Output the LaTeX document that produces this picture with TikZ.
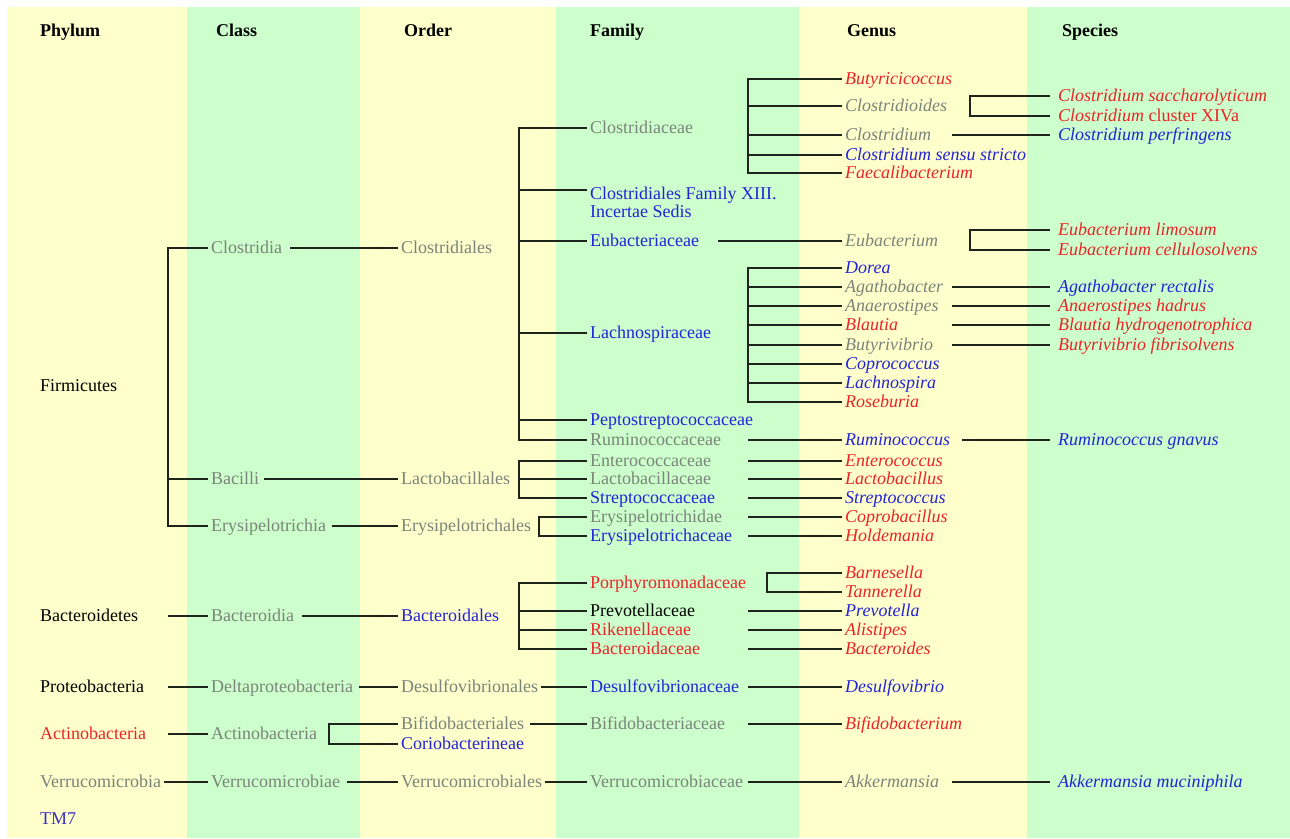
\documentclass[tikz,border=0pt]{standalone}
\usepackage{fontspec}
\setmainfont{Liberation Serif}
\usetikzlibrary{calc}
\definecolor{ybg}{RGB}{255,255,204}
\definecolor{gbg}{RGB}{204,255,204}
\definecolor{tgray}{RGB}{122,132,122}
\definecolor{tred}{RGB}{235,35,40}
\definecolor{tblue}{RGB}{35,35,215}
\definecolor{tmc}{RGB}{60,50,190}
\definecolor{lnc}{RGB}{30,36,28}
\begin{document}
\begin{tikzpicture}[x=1pt,y=-1pt,
  lbl/.style={anchor=west, inner xsep=3pt, inner ysep=1pt, font=\fontsize{18}{18}\selectfont, text height=11pt, text depth=1pt},
  hdr/.style={lbl, font=\fontsize{18}{18}\selectfont\bfseries},
  gr/.style={lbl, text=tgray},
  rd/.style={lbl, text=tred},
  bl/.style={lbl, text=tblue},
  bk/.style={lbl, text=black},
  itx/.style={font=\fontsize{18}{18}\selectfont\itshape},
  conn/.style={draw=lnc, line width=2.2pt}]
\useasboundingbox (0,0) rectangle (1290,838);
% background bands
\fill[white] (0,0) rectangle (1290,838);
\fill[ybg] (7,7) rectangle (187,838);
\fill[gbg] (187,7) rectangle (360,838);
\fill[ybg] (360,7) rectangle (556,838);
\fill[gbg] (556,7) rectangle (799,838);
\fill[ybg] (799,7) rectangle (1027,838);
\fill[gbg] (1027,7) rectangle (1290,838);
% column coordinates
\coordinate (cP) at (168,0);
\coordinate (cA) at (329,0);
\coordinate (cF) at (519,0);
\coordinate (cE) at (539,0);
\coordinate (cG) at (748,0);
\coordinate (cPo) at (767,0);
\coordinate (cS) at (952,0);
\coordinate (cB) at (970,0);
\coordinate (cSe) at (1050,0);
% headers
\node[hdr] (hP) at (37,31) {Phylum};
\node[hdr] (hC) at (213,31) {Class};
\node[hdr] (hO) at (401,31) {Order};
\node[hdr] (hF) at (587,31) {Family};
\node[hdr] (hG) at (844,31) {Genus};
\node[hdr] (hS) at (1059,31) {Species};
% phylum
\node[bk] (firmicutes) at (37,386) {Firmicutes};
\node[bk] (bacteroidetes) at (37,616) {Bacteroidetes};
\node[bk] (proteobacteria) at (37,687) {Proteobacteria};
\node[rd] (actinobacteriaP) at (37,734) {Actinobacteria};
\node[gr] (verrucomicrobia) at (37,782) {Verrucomicrobia};
\node[lbl, text=tmc] (tm7) at (37,819) {TM7};
% class
\node[gr] (clostridia) at (208,248) {Clostridia};
\node[gr] (bacilli) at (208,479) {Bacilli};
\node[gr] (erysipelotrichia) at (208,526) {Erysipelotrichia};
\node[gr] (bacteroidia) at (208,616) {Bacteroidia};
\node[gr] (deltaproteobacteria) at (208,687) {Deltaproteobacteria};
\node[gr] (actinobacteriaC) at (208,734) {Actinobacteria};
\node[gr] (verrucomicrobiae) at (208,782) {Verrucomicrobiae};
% order
\node[gr] (clostridiales) at (398,248) {Clostridiales};
\node[gr] (lactobacillales) at (398,479) {Lactobacillales};
\node[gr] (erysipelotrichales) at (398,526) {Erysipelotrichales};
\node[bl] (bacteroidales) at (398,616) {Bacteroidales};
\node[gr] (desulfovibrionales) at (398,687) {Desulfovibrionales};
\node[gr] (bifidobacteriales) at (398,724) {Bifidobacteriales};
\node[bl] (coriobacterineae) at (398,744) {Coriobacterineae};
\node[gr] (verrucomicrobiales) at (398,782) {Verrucomicrobiales};
% family
\node[gr] (clostridiaceae) at (587,128) {Clostridiaceae};
\node[anchor=north west, inner xsep=3pt, inner ysep=1pt, align=left, font=\fontsize{18}{18}\selectfont, text=tblue] (famXIII) at (587,186) {Clostridiales Family XIII.\\Incertae Sedis};
\node[bl] (eubacteriaceae) at (587,241) {Eubacteriaceae};
\node[bl] (lachnospiraceae) at (587,333) {Lachnospiraceae};
\node[bl] (peptostreptococcaceae) at (587,420) {Peptostreptococcaceae};
\node[gr] (ruminococcaceae) at (587,440) {Ruminococcaceae};
\node[gr] (enterococcaceae) at (587,461) {Enterococcaceae};
\node[gr] (lactobacillaceae) at (587,479) {Lactobacillaceae};
\node[bl] (streptococcaceae) at (587,498) {Streptococcaceae};
\node[gr] (erysipelotrichidae) at (587,517) {Erysipelotrichidae};
\node[bl] (erysipelotrichaceae) at (587,536) {Erysipelotrichaceae};
\node[rd] (porphyromonadaceae) at (587,583) {Porphyromonadaceae};
\node[bk] (prevotellaceae) at (587,611) {Prevotellaceae};
\node[rd] (rikenellaceae) at (587,630) {Rikenellaceae};
\node[rd] (bacteroidaceae) at (587,649) {Bacteroidaceae};
\node[bl] (desulfovibrionaceae) at (587,687) {Desulfovibrionaceae};
\node[gr] (bifidobacteriaceae) at (587,724) {Bifidobacteriaceae};
\node[gr] (verrucomicrobiaceae) at (587,782) {Verrucomicrobiaceae};
% genus
\node[rd,itx] (butyricicoccus) at (842,79) {Butyricicoccus};
\node[gr,itx] (clostridioides) at (842,106) {Clostridioides};
\node[gr,itx] (clostridium) at (842,135) {Clostridium};
\node[bl,itx] (sensustricto) at (842,155) {Clostridium sensu stricto};
\node[rd,itx] (faecalibacterium) at (842,173) {Faecalibacterium};
\node[gr,itx] (eubacterium) at (842,241) {Eubacterium};
\node[bl,itx] (dorea) at (842,268) {Dorea};
\node[gr,itx] (agathobacter) at (842,287) {Agathobacter};
\node[gr,itx] (anaerostipes) at (842,306) {Anaerostipes};
\node[rd,itx] (blautia) at (842,325) {Blautia};
\node[gr,itx] (butyrivibrio) at (842,345) {Butyrivibrio};
\node[bl,itx] (coprococcus) at (842,364) {Coprococcus};
\node[bl,itx] (lachnospira) at (842,383) {Lachnospira};
\node[rd,itx] (roseburia) at (842,402) {Roseburia};
\node[bl,itx] (ruminococcus) at (842,440) {Ruminococcus};
\node[rd,itx] (enterococcus) at (842,461) {Enterococcus};
\node[rd,itx] (lactobacillus) at (842,479) {Lactobacillus};
\node[bl,itx] (streptococcus) at (842,498) {Streptococcus};
\node[rd,itx] (coprobacillus) at (842,517) {Coprobacillus};
\node[rd,itx] (holdemania) at (842,536) {Holdemania};
\node[rd,itx] (barnesella) at (842,573) {Barnesella};
\node[rd,itx] (tannerella) at (842,592) {Tannerella};
\node[bl,itx] (prevotella) at (842,611) {Prevotella};
\node[rd,itx] (alistipes) at (842,630) {Alistipes};
\node[rd,itx] (bacteroides) at (842,649) {Bacteroides};
\node[bl,itx] (desulfovibrio) at (842,687) {Desulfovibrio};
\node[rd,itx] (bifidobacterium) at (842,724) {Bifidobacterium};
\node[gr,itx] (akkermansia) at (842,782) {Akkermansia};
% species
\node[rd,itx] (saccharolyticum) at (1055,96) {Clostridium saccharolyticum};
\node[rd] (clusterXIVa) at (1055,116) {\itshape Clostridium\upshape{} cluster XIVa};
\node[bl,itx] (perfringens) at (1055,135) {Clostridium perfringens};
\node[rd,itx] (limosum) at (1055,230) {Eubacterium limosum};
\node[rd,itx] (cellulosolvens) at (1055,250) {Eubacterium cellulosolvens};
\node[bl,itx] (rectalis) at (1055,287) {Agathobacter rectalis};
\node[rd,itx] (hadrus) at (1055,306) {Anaerostipes hadrus};
\node[rd,itx] (hydrogenotrophica) at (1055,325) {Blautia hydrogenotrophica};
\node[rd,itx] (fibrisolvens) at (1055,345) {Butyrivibrio fibrisolvens};
\node[bl,itx] (gnavus) at (1055,440) {Ruminococcus gnavus};
\node[bl,itx] (muciniphila) at (1055,782) {Akkermansia muciniphila};
% ---------- connectors ----------
% phylum -> class
\draw[conn] (clostridia.west) -| (cP |- erysipelotrichia.west) -- (erysipelotrichia.west);
\draw[conn] (cP |- bacilli.west) -- (bacilli.west);
\draw[conn] (bacteroidetes.east -| cP) -- (bacteroidia.west);
\draw[conn] (proteobacteria.east -| cP) -- (deltaproteobacteria.west);
\draw[conn] (actinobacteriaP.east -| cP) -- (actinobacteriaC.west);
\draw[conn] (verrucomicrobia.east) -- (verrucomicrobiae.west);
% class -> order
\draw[conn, shorten <=5pt] (clostridia.east) -- (clostridiales.west);
\draw[conn, shorten <=2pt] (bacilli.east) -- (lactobacillales.west);
\draw[conn, shorten <=3pt] (erysipelotrichia.east) -- (erysipelotrichales.west);
\draw[conn, shorten <=5pt] (bacteroidia.east) -- (bacteroidales.west);
\draw[conn, shorten <=3pt] (deltaproteobacteria.east) -- (desulfovibrionales.west);
\draw[conn, shorten <=4pt] (verrucomicrobiae.east) -- (verrucomicrobiales.west);
\draw[conn] (bifidobacteriales.west) -| (cA |- coriobacterineae.west) -- (coriobacterineae.west);
% order -> family
\draw[conn] (clostridiaceae.west) -| (cF |- ruminococcaceae.west) -- (ruminococcaceae.west);
\coordinate (fxs) at ($(famXIII.north west)+(0,4)$);
\draw[conn] (cF |- fxs) -- (fxs);
\draw[conn] (cF |- eubacteriaceae.west) -- (eubacteriaceae.west);
\draw[conn] (cF |- lachnospiraceae.west) -- (lachnospiraceae.west);
\draw[conn] (cF |- peptostreptococcaceae.west) -- (peptostreptococcaceae.west);
\draw[conn] (enterococcaceae.west) -| (cF |- streptococcaceae.west) -- (streptococcaceae.west);
\draw[conn] (cF |- lactobacillaceae.west) -- (lactobacillaceae.west);
\draw[conn] (erysipelotrichidae.west) -| (cE |- erysipelotrichaceae.west) -- (erysipelotrichaceae.west);
\draw[conn] (porphyromonadaceae.west) -| (cF |- bacteroidaceae.west) -- (bacteroidaceae.west);
\draw[conn] (cF |- prevotellaceae.west) -- (prevotellaceae.west);
\draw[conn] (cF |- rikenellaceae.west) -- (rikenellaceae.west);
\draw[conn] (desulfovibrionales.east) -- (desulfovibrionaceae.west);
\draw[conn, shorten <=3pt] (bifidobacteriales.east) -- (bifidobacteriaceae.west);
\draw[conn] (verrucomicrobiales.east) -- (verrucomicrobiaceae.west);
% family -> genus
\draw[conn] (butyricicoccus.west) -| (cG |- faecalibacterium.west) -- (faecalibacterium.west);
\draw[conn] (cG |- clostridioides.west) -- (clostridioides.west);
\draw[conn] (cG |- clostridium.west) -- (clostridium.west);
\draw[conn] (cG |- sensustricto.west) -- (sensustricto.west);
\draw[conn, shorten <=16pt] (eubacteriaceae.east) -- (eubacterium.west);
\draw[conn] (dorea.west) -| (cG |- roseburia.west) -- (roseburia.west);
\foreach \g in {agathobacter,anaerostipes,blautia,butyrivibrio,coprococcus,lachnospira}
  \draw[conn] (cG |- \g.west) -- (\g.west);
\draw[conn] (ruminococcaceae.east -| cG) -- (ruminococcus.west);
\draw[conn] (enterococcaceae.east -| cG) -- (enterococcus.west);
\draw[conn] (lactobacillaceae.east -| cG) -- (lactobacillus.west);
\draw[conn] (streptococcaceae.east -| cG) -- (streptococcus.west);
\draw[conn] (erysipelotrichidae.east -| cG) -- (coprobacillus.west);
\draw[conn] (erysipelotrichaceae.east -| cG) -- (holdemania.west);
\draw[conn] (barnesella.west) -| (cPo |- tannerella.west) -- (tannerella.west);
\draw[conn] (prevotellaceae.east -| cG) -- (prevotella.west);
\draw[conn] (rikenellaceae.east -| cG) -- (alistipes.west);
\draw[conn] (bacteroidaceae.east -| cG) -- (bacteroides.west);
\draw[conn] (desulfovibrionaceae.east -| cG) -- (desulfovibrio.west);
\draw[conn] (bifidobacteriaceae.east -| cG) -- (bifidobacterium.west);
\draw[conn] (verrucomicrobiaceae.east -| cG) -- (akkermansia.west);
% genus -> species
\draw[conn] (saccharolyticum.west -| cSe) -- (saccharolyticum.west -| cB) -- (clusterXIVa.west -| cB) -- (clusterXIVa.west -| cSe);
\draw[conn] (clostridium.east -| cS) -- (perfringens.west -| cSe);
\draw[conn] (limosum.west -| cSe) -- (limosum.west -| cB) -- (cellulosolvens.west -| cB) -- (cellulosolvens.west -| cSe);
\draw[conn] (agathobacter.east -| cS) -- (rectalis.west -| cSe);
\draw[conn] (anaerostipes.east -| cS) -- (hadrus.west -| cSe);
\draw[conn] (blautia.east -| cS) -- (hydrogenotrophica.west -| cSe);
\draw[conn] (butyrivibrio.east -| cS) -- (fibrisolvens.west -| cSe);
\draw[conn, shorten <=9pt] (ruminococcus.east) -- (gnavus.west -| cSe);
\draw[conn] (akkermansia.east -| cS) -- (muciniphila.west -| cSe);
\end{tikzpicture}
\end{document}
